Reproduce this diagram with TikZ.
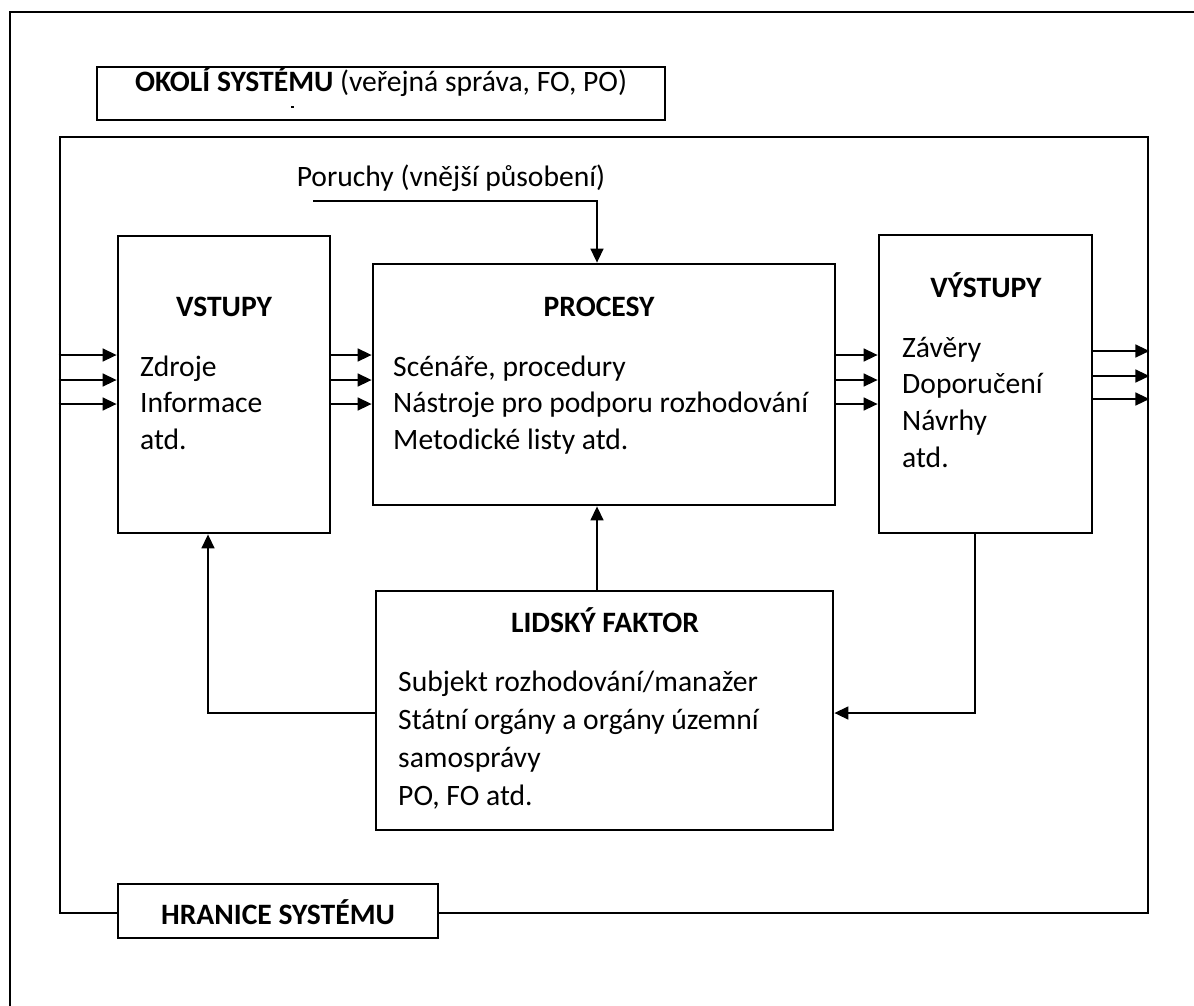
\documentclass[tikz,border=0pt]{standalone}
\usepackage{fontspec}
\setmainfont{Carlito}
\usetikzlibrary{arrows.meta}

\begin{document}
\begin{tikzpicture}[x=1pt,y=-1pt,
  box/.style={draw, line width=2.8pt, inner sep=0pt, fill=white},
  txt/.style={inner sep=0pt, font=\fontsize{29.6}{37}\selectfont},
  ttl/.style={txt, anchor=base, font=\fontsize{29.6}{37}\selectfont\bfseries},
  conn/.style={line width=1.5pt, -{Triangle[length=14pt,width=13pt]}},
]
\path[use as bounding box] (0,0) rectangle (1194,1005);

% page frame (only its left and top edges fall inside the page)
\draw[line width=2.8pt] (10,1012) -- (10,12) -- (1200,12);

% surroundings label
\node[box, minimum width=568pt, minimum height=53pt] (okoli) at (381,93.5) {};
\node[txt, anchor=base] (okolit) at (381,91) {\textbf{OKOLÍ SYSTÉMU} (veřejná správa, FO, PO)};
\fill (291,106) rectangle (294,108);

% system boundary
\node[draw, line width=2.8pt, inner sep=0pt, minimum width=1088pt, minimum height=776pt] (system) at (604,525) {};
\node[box, minimum width=320pt, minimum height=54pt] (hranice) at (278,911) {};
\node[ttl] (hranicet) at (278,924) {HRANICE SYSTÉMU};

% main blocks
\node[box, minimum width=212pt, minimum height=297pt] (vstupy) at (224,384.5) {};
\node[box, minimum width=462pt, minimum height=241pt] (procesy) at (604,384.5) {};
\node[box, minimum width=213pt, minimum height=298pt] (vystupy) at (985.5,384) {};
\node[box, minimum width=457pt, minimum height=239pt] (lidsky) at (604.5,710.5) {};

% titles
\node[ttl] (vstupyt) at (224,316) {VSTUPY};
\node[ttl] (procesyt) at (599,316) {PROCESY};
\node[ttl] (vystupyt) at (986,297) {VÝSTUPY};
\node[ttl] (lidskyt) at (605,632) {LIDSKÝ FAKTOR};

% block contents
\node[txt, anchor=base west] (v1) at (140,376) {Zdroje};
\node[txt, anchor=base west] (v2) at (140,412) {Informace};
\node[txt, anchor=base west] (v3) at (140,449) {atd.};

\node[txt, anchor=base west] (p1) at (393,376) {Scénáře, procedury};
\node[txt, anchor=base west] (p2) at (393,412) {Nástroje pro podporu rozhodování};
\node[txt, anchor=base west] (p3) at (393,449) {Metodické listy atd.};

\node[txt, anchor=base west] (o1) at (902,357) {Závěry};
\node[txt, anchor=base west] (o2) at (902,393) {Doporučení};
\node[txt, anchor=base west] (o3) at (902,430) {Návrhy};
\node[txt, anchor=base west] (o4) at (902,467) {atd.};

\node[txt, anchor=base west] (l1) at (398,691) {Subjekt rozhodování/manažer};
\node[txt, anchor=base west] (l2) at (398,729) {Státní orgány a orgány územní};
\node[txt, anchor=base west] (l3) at (398,767) {samosprávy};
\node[txt, anchor=base west] (l4) at (398,805) {PO, FO atd.};

% disturbances
\node[txt, anchor=base] (poruchy) at (451,186) {Poruchy (vnější působení)};

% row levels of the parallel flows
\coordinate (ra) at (0,355);
\coordinate (rb) at (0,380);
\coordinate (rc) at (0,404);
\coordinate (oa) at (0,351);
\coordinate (ob) at (0,376);
\coordinate (oc) at (0,399);

\foreach \r in {ra,rb,rc} {
  \draw[conn] (system.west |- \r) -- (vstupy.west |- \r);
  \draw[conn] (vstupy.east |- \r) -- (procesy.west |- \r);
  \draw[conn] (procesy.east |- \r) -- (vystupy.west |- \r);
}
\foreach \r in {oa,ob,oc} {
  \draw[conn] (vystupy.east |- \r) -- (system.east |- \r);
}

% disturbance arrow
\coordinate (pstart) at (313,201);
\coordinate (pdrop) at (597,201);
\draw[conn] (pstart) -| (procesy.north -| pdrop);

% human factor links
\coordinate (hx) at (597,0);
\draw[conn] (lidsky.north -| hx) -- (procesy.south -| hx);
\coordinate (fl) at (208,713);
\draw[conn] (lidsky.west |- fl) -| (vstupy.south -| fl);
\coordinate (fr) at (975,713);
\draw[conn] (vystupy.south -| fr) |- (lidsky.east |- fr);
\end{tikzpicture}
\end{document}
